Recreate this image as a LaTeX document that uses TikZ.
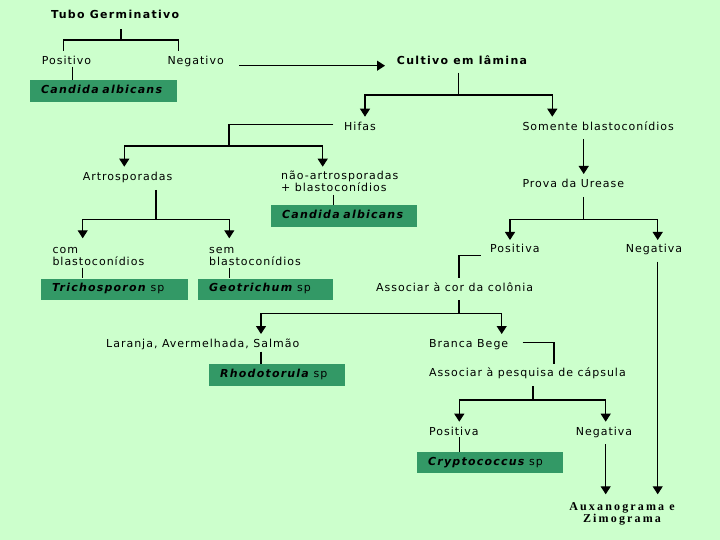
\documentclass[tikz,border=0pt]{standalone}
\usepackage{fontspec}
\newfontfamily\vf{DejaVu Sans}[LetterSpace=9, BoldFeatures={LetterSpace=12}, BoldItalicFeatures={LetterSpace=11}]
\newfontfamily\tnr{Liberation Serif}[LetterSpace=18]
\usetikzlibrary{arrows.meta}
\definecolor{bg}{RGB}{204,255,204}
\definecolor{boxg}{RGB}{51,153,102}
\begin{document}
\begin{tikzpicture}[x=1pt,y=-1pt,
  lbl/.style={anchor=base west, inner sep=0pt, font=\vf\fontsize{11}{11}\selectfont, align=left},
  hd/.style={lbl, font=\vf\fontsize{11}{11}\selectfont\bfseries},
  gbox/.style={anchor=north west, fill=boxg, inner xsep=11pt, inner ysep=5.75pt,
     text height=7.5pt, text depth=2.5pt, align=left, font=\vf\fontsize{11}{11}\selectfont},
  ln/.style={line width=1.1pt, draw=black},
  arr/.style={ln, -{Triangle[width=10pt,length=8pt]}},
  arr2/.style={ln, {Triangle[width=10pt,length=8pt]}-{Triangle[width=10pt,length=8pt]}}
]
\fill[bg] (0,0) rectangle (720,540);
\useasboundingbox (0,0) rectangle (720,540);

% ---- nodes
\node[hd] (tubo) at (51,19) {Tubo Germinativo};
\node[lbl] (pos1) at (41.7,64.5) {Positivo};
\node[lbl] (neg1) at (167.3,64.5) {Negativo};
\node[gbox, text width=125pt] (ca1) at (30,80) {\textbf{\textit{Candida albicans}}};
\node[hd] (cult) at (396.7,64.3) {Cultivo em lâmina};
\node[lbl] (hifas) at (344,130.5) {Hifas};
\node[lbl] (somente) at (522.3,130.5) {Somente blastoconídios};
\node[lbl] (artro) at (82.7,181) {Artrosporadas};
\node[lbl] (nao) at (281,191.7) {não-artrosporadas\\+ blastoconídios};
\node[gbox, text width=123.7pt] (ca2) at (271,205) {\textbf{\textit{Candida albicans}}};
\node[lbl] (com) at (52.3,265) {com\\blastoconídios};
\node[lbl] (sem) at (209,265) {sem\\blastoconídios};
\node[gbox, text width=125pt] (tri) at (41,278.3) {\textbf{\textit{Trichosporon}} sp};
\node[gbox, text width=113pt] (geo) at (198,278.3) {\textbf{\textit{Geotrichum}} sp};
\node[lbl] (prova) at (522.3,187.7) {Prova da Urease};
\node[lbl] (posA) at (490,252.7) {Positiva};
\node[lbl] (negA) at (625.7,252.7) {Negativa};
\node[lbl] (cor) at (376,291) {Associar à cor da colônia};
\node[lbl] (lar) at (106,347.7) {Laranja, Avermelhada, Salmão};
\node[gbox, text width=114pt] (rho) at (209,364) {\textbf{\textit{Rhodotorula}} sp};
\node[lbl] (bra) at (429,347.7) {Branca Bege};
\node[lbl] (cap) at (429,376.7) {Associar à pesquisa de cápsula};
\node[lbl] (posB) at (429,435) {Positiva};
\node[lbl] (negB) at (575.7,435) {Negativa};
\node[gbox, text width=124pt] (cry) at (417,451.7) {\textbf{\textit{Cryptococcus}} sp};
\node[anchor=base, inner sep=0pt, align=center, font=\tnr\fontsize{12}{12.7}\selectfont\bfseries] (aux) at (622,522.7) {Auxanograma e\\Zimograma};

% ---- coordinates
\coordinate (t1) at (121,29.3); \coordinate (t2) at (121,40);
\coordinate (tL) at (63.3,51); \coordinate (tR) at (178.3,51);
\coordinate (p1) at (72.7,66.7);
\coordinate (n1) at (239,65.7); \coordinate (n2) at (385,65.7);
\coordinate (c1) at (458.3,72.7); \coordinate (c2) at (458.3,95);
\coordinate (cL) at (365,116.7); \coordinate (cR) at (552.3,116.7);
\coordinate (h1) at (333.3,124.3); \coordinate (h2) at (229,146);
\coordinate (hL) at (124.3,166.7); \coordinate (hR) at (322.7,166.7);
\coordinate (a1) at (156,190); \coordinate (a2) at (156,219.3);
\coordinate (aL) at (82.7,238.3); \coordinate (aR) at (229.3,238.3);
\coordinate (na) at (333.3,195);
\coordinate (cm) at (82.7,267.7); \coordinate (sm) at (229.3,267.7);
\coordinate (s1) at (583.7,139); \coordinate (s2) at (583.7,174);
\coordinate (u1) at (583.7,197); \coordinate (u2) at (583.7,219.3);
\coordinate (uL) at (510,240); \coordinate (uR) at (657.7,240);
\coordinate (q1) at (480.7,255.7); \coordinate (q2) at (459,277.7);
\coordinate (k1) at (459,300); \coordinate (k2) at (459,313.3);
\coordinate (kL) at (261,334); \coordinate (kR) at (501.7,334);
\coordinate (g1) at (657.7,261.7); \coordinate (g2) at (657.7,494.3);
\coordinate (l1) at (261,351.7);
\coordinate (b1) at (522.7,342.7); \coordinate (b2) at (554,364);
\coordinate (e1) at (533,386); \coordinate (e2) at (533,400);
\coordinate (eL) at (459.3,421.7); \coordinate (eR) at (605.7,421.7);
\coordinate (r1) at (459.3,437);
\coordinate (m1) at (605.7,444); \coordinate (m2) at (605.7,494.3);

% ---- connectors
\draw[ln] (t1) -- (t2);
\draw[ln] (tL) |- (t2) -| (tR);
\draw[ln] (p1) -- (p1 |- ca1.north);
\draw[arr] (n1) -- (n2);
\draw[ln] (c1) -- (c2);
\draw[arr2] (cL) |- (c2) -| (cR);
\draw[ln] (h1) -| (h2);
\draw[arr2] (hL) |- (h2) -| (hR);
\draw[ln] (a1) -- (a2);
\draw[arr2] (aL) |- (a2) -| (aR);
\draw[ln] (na) -- (na |- ca2.north);
\draw[ln] (cm) -- (cm |- tri.north);
\draw[ln] (sm) -- (sm |- geo.north);
\draw[arr] (s1) -- (s2);
\draw[ln] (u1) -- (u2);
\draw[arr2] (uL) |- (u2) -| (uR);
\draw[ln] (q1) -| (q2);
\draw[ln] (k1) -- (k2);
\draw[arr2] (kL) |- (k2) -| (kR);
\draw[arr] (g1) -- (g2);
\draw[ln] (l1) -- (l1 |- rho.north);
\draw[ln] (b1) -| (b2);
\draw[ln] (e1) -- (e2);
\draw[arr2] (eL) |- (e2) -| (eR);
\draw[ln] (r1) -- (r1 |- cry.north);
\draw[arr] (m1) -- (m2);
\end{tikzpicture}
\end{document}
